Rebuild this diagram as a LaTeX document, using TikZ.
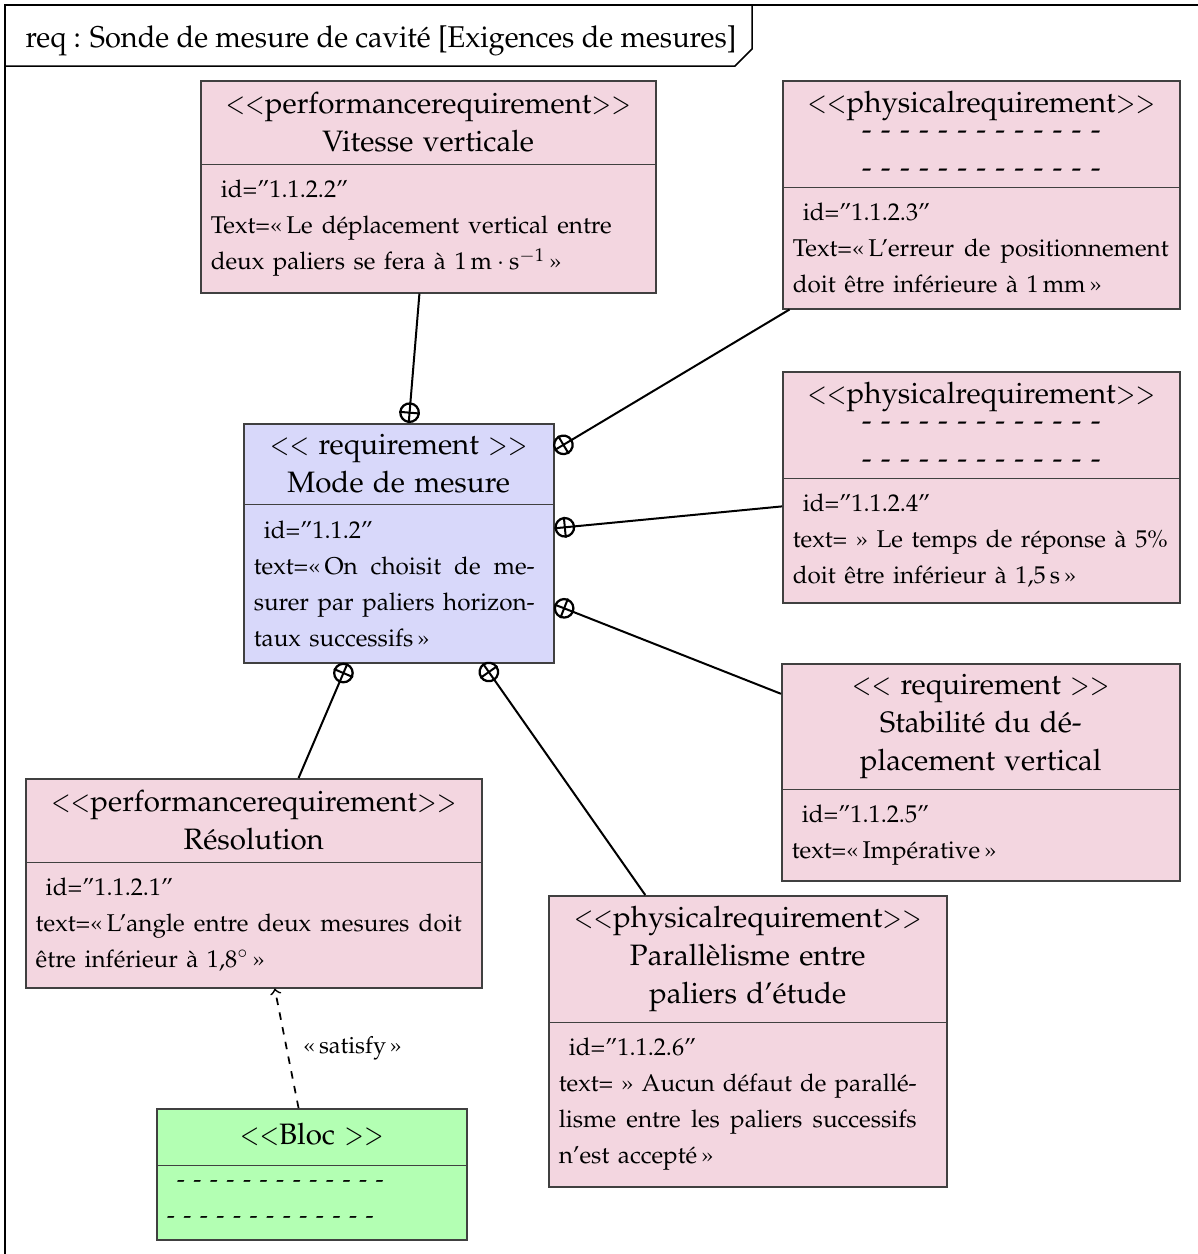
\documentclass[tikz,border=0pt]{standalone}
\usepackage[T1]{fontenc}
\usepackage{mathpazo}
\usetikzlibrary{shapes.multipart,positioning}

\definecolor{roseexig}{RGB}{243,214,224}
\definecolor{bleuexig}{RGB}{216,216,250}
\definecolor{vertbloc}{RGB}{179,255,179}

\newcommand\policetete{\fontsize{11.8}{15.2}\selectfont
  \spaceskip=3.7pt plus 1pt minus 1pt}
\newcommand\policecorps{\fontsize{9.7}{14.4}\selectfont
  \spaceskip=3.4pt plus 2pt minus 1pt}
\newcommand\stereo[1]{\scalebox{0.8}[1]{$<<$}#1\scalebox{0.8}[1]{$>>$}}
% haut d'un bloc : largeur, hauteur, lignes centrees
\newcommand\entete[3]{\parbox[c][#2][c]{#1}{\centering\policetete #3}}
% bas d'un bloc : largeur du texte, hauteur, id, texte justifie
\newcommand\corps[4]{\hspace*{4pt}\parbox[c][#2][c]{#1}{\policecorps
  \hspace*{4pt}id=''#3''\par #4}}
\newcommand\tirets{- - - - - - - - - - - - -}

\begin{document}
\begin{tikzpicture}[x=0.4pt, y=-0.4pt,
    exigence/.style={rectangle split, rectangle split parts=2,
      rectangle split part align={center,left}, draw=black!75,
      line width=0.6pt, fill=roseexig, inner sep=0pt, anchor=north west},
    lien/.style={line width=0.8pt},
    contenir/.style={circle, draw, line width=0.9pt, minimum size=7.4pt,
      inner sep=0pt, pos=0, sloped, allow upside down, anchor=west},
    satisfait/.style={->, dashed, line width=0.7pt}]
  \useasboundingbox (0,0) rectangle (1198,1254);

  % cadre du diagramme
  \draw[line width=0.7pt] (1198,5) -- (5,5) -- (5,1254);
  \draw[line width=0.6pt] (5,66) -- (735,66) -- (752,49) -- (752,5);
  \node[anchor=base west, inner sep=0pt] (titre) at (25,47)
    {\scalebox{0.965}[1]{\fontsize{12}{15}\selectfont req : Sonde de mesure
     de cavité [Exigences de mesures]}};

  % exigences
  \node[exigence] (vit) at (200,80)
    {\entete{182pt}{32.8pt}{\stereo{performancerequirement}\\Vitesse verticale}
     \nodepart{two}\corps{160.4pt}{50.8pt}{1.1.2.2}{Text=\guillemotleft\,Le
       déplacement vertical entre\linebreak deux paliers se fera à
       $1\,\mathrm{m}\cdot\mathrm{s}^{-1}$\,\guillemotright}};

  \node[exigence] (pr3) at (782,80)
    {\entete{158.8pt}{42pt}{\stereo{physicalrequirement}\\[-4.4pt]\tirets\\\tirets}
     \nodepart{two}\corps{150.4pt}{48pt}{1.1.2.3}{Text=\guillemotleft\,L'erreur
       de positionnement\linebreak doit être inférieure à 1\,mm\,\guillemotright}};

  \node[exigence] (pr4) at (782,371)
    {\entete{158.8pt}{42pt}{\stereo{physicalrequirement}\\[-4.4pt]\tirets\\\tirets}
     \nodepart{two}\corps{150pt}{49.2pt}{1.1.2.4}{text= \guillemotright{} Le
       temps de réponse à 5\%\linebreak doit être inférieur à 1,5\,s\,\guillemotright}};

  \node[exigence, fill=bleuexig] (mode) at (243,423)
    {\entete{124pt}{31.6pt}{\stereo{ requirement }\\Mode de mesure}
     \nodepart{two}\corps{112.4pt}{62.8pt}{1.1.2}{text=\guillemotleft\,On choisit
       de me-\linebreak surer par paliers horizon-\linebreak taux
       successifs\,\guillemotright}};

  \node[exigence] (stab) at (781,663)
    {\entete{159.2pt}{49.6pt}{\stereo{ requirement }\\Stabilité du
       dé-\\placement vertical}
     \nodepart{two}\corps{150pt}{36pt}{1.1.2.5}{text=\guillemotleft\,Impérative\,\guillemotright}};

  \node[exigence] (reso) at (25,778)
    {\entete{182.4pt}{32.8pt}{\stereo{performancerequirement}\\Résolution}
     \nodepart{two}\corps{170.4pt}{49.6pt}{1.1.2.1}{text=\guillemotleft\,L'angle
       entre deux mesures doit\linebreak être inférieur à
       1,8$^{\circ}$\,\guillemotright}};

  \node[exigence] (para) at (548,895)
    {\entete{159.2pt}{50pt}{\stereo{physicalrequirement}\\Parallèlisme
       entre\\paliers d'étude}
     \nodepart{two}\corps{143.2pt}{65.2pt}{1.1.2.6}{text= \guillemotright{} Aucun
       défaut de parallé-\linebreak lisme entre les paliers successifs\linebreak
       n'est accepté\,\guillemotright}};

  % bloc
  \node[exigence, fill=vertbloc] (bloc) at (156,1108)
    {\entete{124pt}{22pt}{\raisebox{2.6pt}{\stereo{Bloc }}}
     \nodepart{two}\hspace*{4pt}\parbox[c][29.2pt][c]{110pt}{\policecorps
       \hspace*{4pt}\tirets\par\tirets}};

  % liens de contenance
  \foreach \cible/\nom in {vit/c1, pr3/c2, pr4/c3, stab/c4, reso/c5, para/c6} {
    \draw[lien] (mode) -- (\cible) node[contenir] (\nom) {};
    \draw[lien] (\nom.north) -- (\nom.south);
  }

  \draw[satisfait] (bloc) -- (reso)
    node[midway, right=3pt, font=\fontsize{9.4}{11}\selectfont]
    {\guillemotleft\,satisfy\,\guillemotright};
\end{tikzpicture}
\end{document}
